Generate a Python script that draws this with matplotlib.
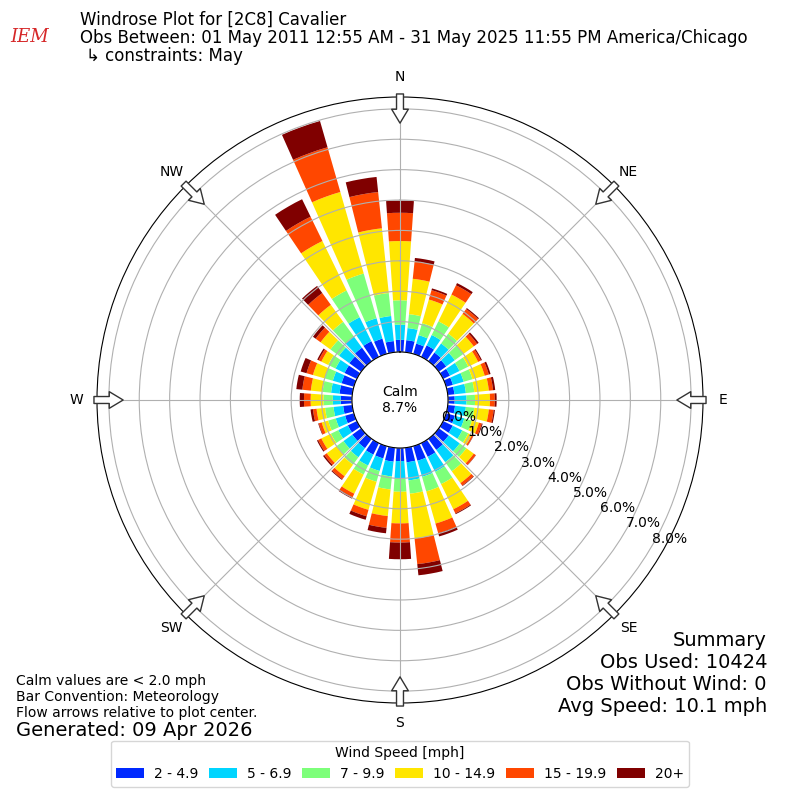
import numpy as np
import matplotlib
matplotlib.use("Agg")
import matplotlib.pyplot as plt

# ---------------- data ----------------
directions = np.arange(0, 360, 10)  # degrees, bin centers
speed_labels = ["2 - 4.9", "5 - 6.9", "7 - 9.9", "10 - 14.9", "15 - 19.9", "20+"]
# percent of observations per direction, one list per speed bin (0..350 deg)
pct_2_5 = [0.40, 0.40, 0.35, 0.42, 0.35, 0.30, 0.25, 0.23, 0.22, 0.22, 0.24, 0.30,
           0.35, 0.40, 0.45, 0.50, 0.50, 0.48, 0.43, 0.46, 0.42, 0.42, 0.38, 0.36,
           0.33, 0.30, 0.30, 0.37, 0.42, 0.42, 0.45, 0.48, 0.55, 0.57, 0.52, 0.37]
pct_5_7 = [0.50, 0.40, 0.29, 0.38, 0.37, 0.35, 0.35, 0.37, 0.38, 0.39, 0.36, 0.32,
           0.35, 0.45, 0.50, 0.55, 0.55, 0.60, 0.57, 0.49, 0.43, 0.40, 0.37, 0.36,
           0.35, 0.32, 0.32, 0.26, 0.28, 0.30, 0.33, 0.42, 0.45, 0.88, 0.70, 0.83]
pct_7_10 = [0.80, 0.46, 0.41, 0.50, 0.40, 0.35, 0.32, 0.30, 0.28, 0.28, 0.28, 0.26,
            0.22, 0.27, 0.37, 0.45, 0.50, 0.44, 0.44, 0.43, 0.37, 0.33, 0.30, 0.28,
            0.27, 0.26, 0.28, 0.31, 0.28, 0.28, 0.27, 0.35, 0.60, 0.98, 1.53, 0.76]
pct_10_15 = [1.95, 1.17, 0.81, 0.98, 0.80, 0.42, 0.36, 0.42, 0.48, 0.49, 0.48, 0.24,
             0.13, 0.30, 0.48, 0.92, 1.10, 1.48, 1.04, 0.88, 0.96, 0.70, 0.47, 0.40,
             0.35, 0.22, 0.28, 0.42, 0.39, 0.40, 0.25, 0.40, 0.69, 1.81, 2.79, 2.14]
pct_15_20 = [0.93, 0.57, 0.32, 0.34, 0.20, 0.14, 0.10, 0.14, 0.14, 0.16, 0.16, 0.10,
             0.05, 0.08, 0.10, 0.15, 0.33, 0.85, 0.63, 0.39, 0.22, 0.13, 0.12, 0.10,
             0.12, 0.10, 0.12, 0.22, 0.28, 0.22, 0.10, 0.20, 0.48, 0.89, 1.53, 1.20]
pct_20p = [0.40, 0.12, 0.06, 0.08, 0.04, 0.06, 0.04, 0.06, 0.07, 0.06, 0.04, 0.03,
           0.01, 0.01, 0.02, 0.03, 0.11, 0.37, 0.55, 0.18, 0.12, 0.05, 0.03, 0.05,
           0.04, 0.02, 0.08, 0.14, 0.20, 0.20, 0.05, 0.11, 0.29, 0.64, 0.90, 0.50]
calm_pct = 8.7
dir_ticks = [0, 45, 90, 135, 180, 225, 270, 315]
dir_labels = ["N", "NE", "E", "SE", "S", "SW", "W", "NW"]
r_ticks = [0, 1, 2, 3, 4, 5, 6, 7, 8]

series = [pct_2_5, pct_5_7, pct_7_10, pct_10_15, pct_15_20, pct_20p]
colors = plt.cm.jet(np.linspace(0, 1, 7)[1:])

# ---------------- figure ----------------
fig = plt.figure(figsize=(8, 8), dpi=100)
ax = fig.add_axes([97 / 800, 97 / 800, 606 / 800, 606 / 800], projection="polar")
ax.set_theta_zero_location("N")
ax.set_theta_direction(-1)

theta = np.radians(directions)
width = np.radians(10) * 0.8
bottom = np.zeros(len(directions))
handles = []
for vals, col, lab in zip(series, colors, speed_labels):
    vals = np.asarray(vals)
    b = ax.bar(theta, vals, width=width, bottom=bottom, color=col,
               linewidth=0, label=lab)
    handles.append(b)
    bottom = bottom + vals

ax.set_ylim(0, 8.39)
ax.set_rorigin(-1.58)
ax.set_yticks(r_ticks)
ax.set_yticklabels([f"{t:.1f}%" for t in r_ticks], fontsize=10)
ax.set_rlabel_position(120)
ax.set_thetagrids(dir_ticks, dir_labels, fontsize=10)
ax.tick_params(axis="x", pad=4)

# flow arrows at the compass points
for d in dir_ticks:
    ax.annotate("", xy=(np.radians(d), 7.53), xytext=(np.radians(d), 8.49),
                xycoords="data", textcoords="data", annotation_clip=False,
                arrowprops=dict(arrowstyle="simple,head_length=0.5,head_width=0.6,tail_width=0.25",
                                mutation_scale=20, fc="white", ec="#333333", lw=1,
                                shrinkA=0, shrinkB=0))

ax.text(0.5, 0.5, f"Calm\n{calm_pct:.1f}%", transform=ax.transAxes,
        ha="center", va="center", fontsize=10)

# ---------------- texts ----------------
def fy(px):
    return 1 - px / 800

fig.text(30 / 800, fy(37), "IEM", color="#d62728", fontsize=13, style="italic",
         family="DejaVu Serif", ha="center", va="center")
fig.text(80 / 800, fy(20), "Windrose Plot for [2C8] Cavalier", fontsize=12, va="center")
fig.text(80 / 800, fy(38),
         "Obs Between: 01 May 2011 12:55 AM - 31 May 2025 11:55 PM America/Chicago",
         fontsize=12, va="center")
fig.text(86 / 800, fy(56), "\u21b3 constraints: May", fontsize=12, va="center")

summary = ["Summary", "Obs Used: 10424", "Obs Without Wind: 0", "Avg Speed: 10.1 mph"]
for i, s in enumerate(summary):
    fig.text(767 / 800, fy(640 + 22 * i), s, fontsize=14, ha="right", va="center")

fig.text(16 / 800, fy(697),
         "Calm values are < 2.0 mph\nBar Convention: Meteorology\nFlow arrows relative to plot center.",
         fontsize=10, ha="left", va="center")
fig.text(16 / 800, fy(730), "Generated: 09 Apr 2026", fontsize=14, ha="left", va="center")

fig.legend(handles=handles, labels=speed_labels, loc="lower center",
           bbox_to_anchor=(0.5, 0.008), ncol=6, title="Wind Speed [mph]",
           fontsize=10, title_fontsize=10, columnspacing=0.8, handletextpad=0.7)

fig.savefig("out.png", dpi=100)
